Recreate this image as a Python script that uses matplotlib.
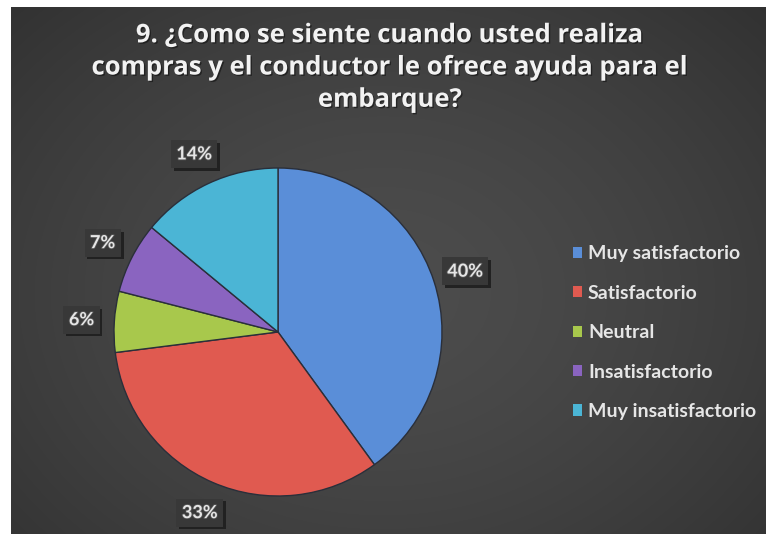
import numpy as np
import matplotlib.pyplot as plt
import matplotlib.patheffects as pe
from matplotlib.patches import Patch, Rectangle

# Encuesta, pregunta 9
categorias = ['Muy satisfactorio', 'Satisfactorio', 'Neutral',
              'Insatisfactorio', 'Muy insatisfactorio']
porcentajes = [40, 33, 6, 7, 14]
colores = ['#5a8ed8', '#e05a50', '#a8c84c', '#8a64c0', '#4bb5d5']
titulo = ('9. ¿Como se siente cuando usted realiza\n'
          'compras y el conductor le ofrece ayuda para el\n'
          'embarque?')

W, H = 766, 534
fig = plt.figure(figsize=(W / 100, H / 100), dpi=100, facecolor='#303030')
plt.rcParams['font.family'] = ['Lato', 'DejaVu Sans']

# fondo gris oscuro con degradado radial
bg = fig.add_axes([0, 0, 1, 1])
yy, xx = np.mgrid[0:1:300j, 0:1:400j]
d = np.sqrt(((xx - 0.5) / 0.75) ** 2 + ((yy - 0.45) / 0.85) ** 2)
g = np.clip(0.30 - 0.12 * d ** 1.5, 0.17, 0.30)
bg.imshow(np.dstack([g, g, g]), aspect='auto', extent=[0, 1, 0, 1],
          origin='lower', interpolation='bilinear')
bg.set_xlim(0, 1)
bg.set_ylim(0, 1)
bg.axis('off')
# margen blanco arriba y a la izquierda
bg.add_patch(Rectangle((0, 0), 11 / W, 1, facecolor='white', edgecolor='none'))
bg.add_patch(Rectangle((0, 1 - 7 / H), 1, 7 / H, facecolor='white', edgecolor='none'))

# pastel
cx, cy, r = 278, 332, 164
ax = fig.add_axes([(cx - r) / W, (H - cy - r) / H, 2 * r / W, 2 * r / H])
wedges, texts, autotexts = ax.pie(
    porcentajes, colors=colores, startangle=90, counterclock=False,
    autopct='%d%%', pctdistance=1.2,
    wedgeprops=dict(edgecolor='#2a2f3a', linewidth=1.0),
    textprops=dict(color='#e6e6e6', fontsize=13, fontweight='bold'))
ax.set_xlim(-1, 1)
ax.set_ylim(-1, 1)
ax.axis('off')

for t in autotexts:
    t.set_bbox(dict(boxstyle='square,pad=0.3', facecolor='#383838', edgecolor='none'))
    t.get_bbox_patch().set_path_effects(
        [pe.SimplePatchShadow(offset=(2, -2), shadow_rgbFace='#1e1e1e', alpha=0.9), pe.Normal()])
    t.set_path_effects([pe.withStroke(linewidth=1.2, foreground='#555555')])

# titulo
fig.text(390 / W, 1 - 67 / H, titulo, ha='center', va='center', fontsize=18.5,
         fontweight='bold', color='#f2f2f2', linespacing=1.25,
         family=['Open Sans', 'DejaVu Sans'],
         path_effects=[pe.withSimplePatchShadow(offset=(1, -1), shadow_rgbFace='#111111', alpha=0.6)])

# leyenda
handles = [Patch(facecolor=c, edgecolor='none') for c in colores]
leg = fig.legend(handles, categorias, loc='upper left',
                 bbox_to_anchor=(555 / W, 1 - 228 / H), frameon=False,
                 handlelength=0.5, handleheight=0.5, handletextpad=0.3,
                 labelspacing=1.15, prop=dict(size=14, weight='bold'))
for t in leg.get_texts():
    t.set_color('#e6e6e6')

fig.savefig('out.png', dpi=100, facecolor=fig.get_facecolor())
